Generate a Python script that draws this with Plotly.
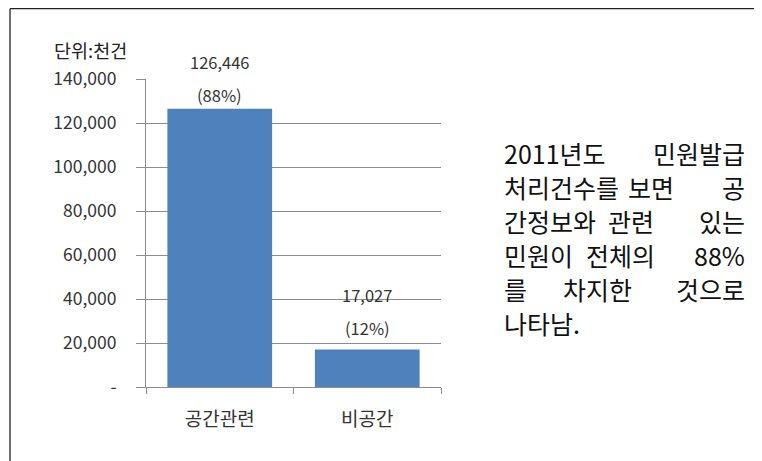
import plotly.graph_objects as go

categories = ["공간관련", "비공간"]
values = [126446, 17027]
shares = ["(88%)", "(12%)"]
tick_vals = [0, 20000, 40000, 60000, 80000, 100000, 120000, 140000]
tick_text = ["-", "20,000", "40,000", "60,000", "80,000", "100,000", "120,000", "140,000"]
unit_label = "단위:천건"
note_lines = [
    ["2011년도", "민원발급"],
    ["처리건수를", "보면", "공"],
    ["간정보와", "관련", "있는"],
    ["민원이", "전체의", "88%"],
    ["를", "차지한", "것으로"],
    ["나타남."],
]
# centre of the middle word on each justified line (page pixels, layout only)
mid_word_x = [None, 651, 631, 620, 597, None]

OFF = 8  # page body margin
W, H = 762 - OFF, 461 - OFF
L, R, T, B = 146 - OFF, 441 - OFF, 79 - OFF, 387 - OFF
pw, ph = R - L, B - T

def px(x):
    return (x - OFF - L) / pw

def py(y):
    return (B - (y - OFF)) / ph

FONT = "Noto Sans CJK KR, sans-serif"
TXT = "#333333"
fig = go.Figure()
fig.add_trace(go.Bar(x=categories, y=values, marker=dict(color="#4F81BD", line=dict(width=0)),
                     width=0.71, hoverinfo="skip"))

annotations = []
for c, v, s, (s1, s2) in zip(categories, values, shares, [(47, 14), (55, 22)]):
    annotations.append(dict(x=c, y=v, xref="x", yref="y", text=f"{v:,}", showarrow=False,
                            yshift=s1, font=dict(size=16.5, color=TXT, family=FONT)))
    annotations.append(dict(x=c, y=v, xref="x", yref="y", text=s, showarrow=False,
                            yshift=s2, font=dict(size=16.5, color=TXT, family=FONT)))

annotations.append(dict(x=px(52), y=py(50), xref="paper", yref="paper", text=unit_label,
                        showarrow=False, xanchor="left", yanchor="middle",
                        font=dict(size=18.5, color="#222222", family=FONT)))

x_left, x_right = 502, 747
y0, dy = 153, 34
for i, words in enumerate(note_lines):
    y = py(y0 + i * dy)
    n = len(words)
    for j, w in enumerate(words):
        if j == 0:
            xa, xx = "left", x_left
        elif j == n - 1:
            xa, xx = "right", x_right
        else:
            xa, xx = "center", mid_word_x[i]
        annotations.append(dict(x=px(xx), y=y, xref="paper", yref="paper", text=w,
                                showarrow=False, xanchor=xa, yanchor="middle",
                                font=dict(size=25, color="#111111", family=FONT)))

frame = dict(color="#222222", width=1.3)
fig.update_layout(
    width=W, height=H,
    margin=dict(l=L, r=W - R, t=T, b=H - B),
    paper_bgcolor="white", plot_bgcolor="white",
    showlegend=False,
    annotations=annotations,
    shapes=[
        dict(type="line", xref="paper", yref="paper", x0=px(10), x1=px(757), y0=py(8.7), y1=py(8.7), line=frame),
        dict(type="line", xref="paper", yref="paper", x0=px(10), x1=px(10), y0=py(8.7), y1=py(470), line=frame),
        dict(type="line", xref="paper", yref="paper", x0=px(757), x1=px(757), y0=py(8.7), y1=py(470), line=frame),
    ],
)
fig.update_xaxes(type="category", showgrid=False, showline=True, linecolor="#8c8c8c",
                 ticks="outside", tickson="boundaries", ticklen=6, tickcolor="#8c8c8c",
                 ticklabelstandoff=15,
                 tickfont=dict(size=19, color=TXT, family=FONT))
fig.update_yaxes(range=[0, 140000], tickvals=tick_vals, ticktext=tick_text,
                 showgrid=True, gridcolor="#8c8c8c", gridwidth=1,
                 showline=True, linecolor="#8c8c8c", ticks="outside", ticklen=9,
                 tickcolor="#8c8c8c", ticklabelstandoff=16, zeroline=False,
                 tickfont=dict(size=17.5, color=TXT, family=FONT))

fig.write_html("out.html")
